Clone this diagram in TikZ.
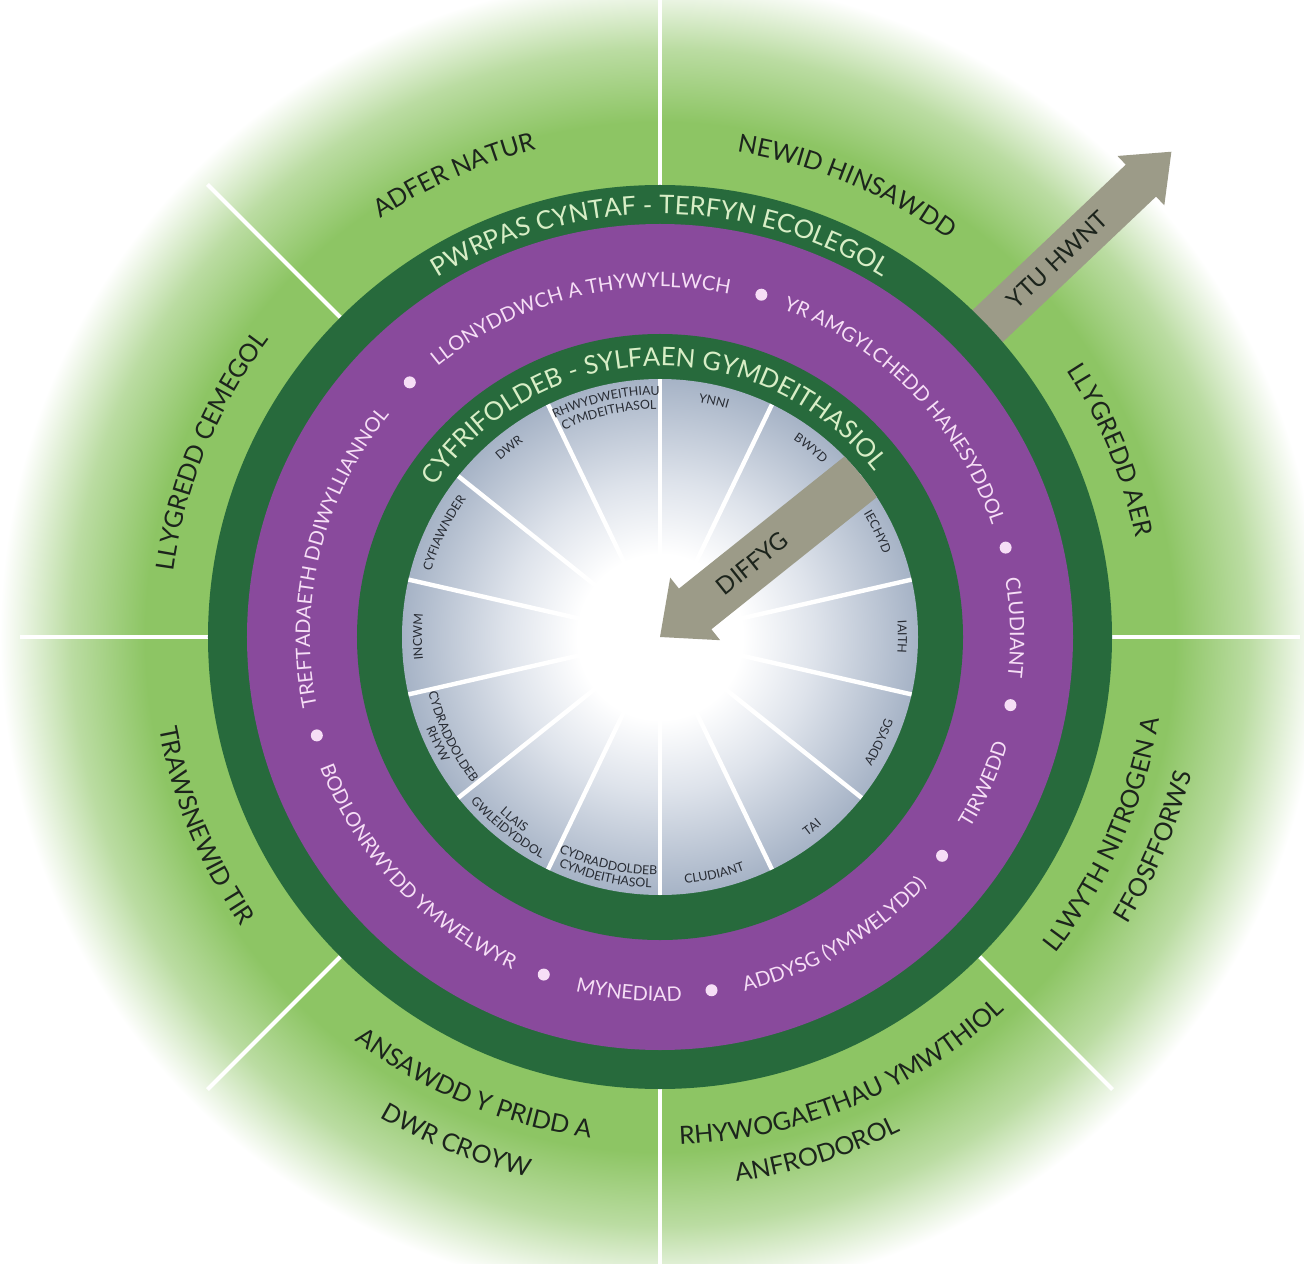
\documentclass[tikz,border=0pt]{standalone}
\usepackage{fontspec}
\setmainfont{Lato}
\usetikzlibrary{decorations.text}
\definecolor{lgreen}{RGB}{141,197,100}
\definecolor{dgreen}{RGB}{39,106,60}
\definecolor{purp}{RGB}{137,74,156}
\definecolor{ptext}{RGB}{246,222,246}
\definecolor{gtext}{RGB}{216,238,198}
\definecolor{darktext}{RGB}{28,36,28}
\definecolor{innertext}{RGB}{40,44,52}
\definecolor{arrowc}{RGB}{156,155,136}
\definecolor{discedge}{RGB}{166,179,198}
\definecolor{discmid}{RGB}{222,227,235}
\pgfdeclareradialshading{outerglow}{\pgfpoint{0bp}{0bp}}{color(0bp)=(lgreen); color(19.5bp)=(lgreen); color(22.3bp)=(lgreen!60!white); color(24.3bp)=(lgreen!15!white); color(25bp)=(white); color(50bp)=(white)}
\pgfdeclareradialshading{discglow}{\pgfpoint{0bp}{0bp}}{color(0bp)=(white); color(8bp)=(white); color(15bp)=(discmid); color(25bp)=(discedge); color(50bp)=(discedge)}
\newcommand\fout{\fontsize{12.5}{14}\selectfont}
\newcommand\fring{\fontsize{12.8}{14}\selectfont}
\newcommand\fpurp{\fontsize{10}{12}\selectfont}
\newcommand\finn{\fontsize{6.2}{7}\selectfont}
\newcommand\cwlab[5]{\path[decorate,decoration={text along path,text align=center,text color=#4,text={|#3|#5}}] (#2+85:#1) arc[start angle=#2+85,end angle=#2-85,radius=#1];}
\newcommand\ccwlab[5]{\path[decorate,decoration={text along path,text align=center,text color=#4,text={|#3|#5}}] (#2-85:#1) arc[start angle=#2-85,end angle=#2+85,radius=#1];}
\begin{document}
\begin{tikzpicture}[x=0.5pt,y=0.5pt,
  spoke/.style={white,line width=2pt},
  ispoke/.style={white,line width=2.2pt},
  bullet/.style={fill=ptext},
  arrowlbl/.style={font=\fontsize{12}{14}\selectfont,text=darktext,inner sep=0pt}]
\useasboundingbox (-660,-626) rectangle (644,637);
\fill[white] (-660,-626) rectangle (644,637);
\shade[shading=outerglow] (0,0) circle (660);
\foreach \a in {0,90,135,180,225,270,315} \draw[spoke] (\a:452) -- (\a:640);
% outward arrow
\fill[arrowc,rotate=43.5] (430,-22) -- (663,-22) -- (663,-34) -- (705,0) -- (663,34) -- (663,22) -- (430,22) -- cycle;
% rings
\fill[dgreen] (0,0) circle (452);
\fill[purp] (0,0) circle (413);
\fill[dgreen] (0,0) circle (303);
\shade[shading=discglow] (0,0) circle (258);
\foreach \k in {0,...,13} \draw[ispoke] (90-\k*25.7143:70) -- (90-\k*25.7143:258);
% inward arrow
\begin{scope}
\clip (0,0) circle (258);
\fill[arrowc,rotate=38.6] (0,0) -- (45,-40) -- (45,-26) -- (300,-26) -- (300,26) -- (45,26) -- (45,40) -- cycle;
\end{scope}
\node[arrowlbl,rotate=43.5] (ytu) at (43.5:548) {YTU HWNT};
\node[arrowlbl,rotate=38.6] (diffyg) at (38.6:118) {DIFFYG};
% outer labels
\cwlab{503}{114}{\fout}{darktext}{ADFER NATUR}
\cwlab{491}{67.5}{\fout}{darktext}{NEWID HINSAWDD}
\cwlab{486}{22.5}{\fout}{darktext}{LLYGREDD AER}
\cwlab{491}{157.5}{\fout}{darktext}{LLYGREDD CEMEGOL}
\ccwlab{509}{202.5}{\fout}{darktext}{TRAWSNEWID TIR}
\ccwlab{506}{247.5}{\fout}{darktext}{ANSAWDD Y PRIDD A}
\ccwlab{556}{248}{\fout}{darktext}{DWR CROYW}
\ccwlab{508}{292.5}{\fout}{darktext}{RHYWOGAETHAU YMWTHIOL}
\ccwlab{550}{287}{\fout}{darktext}{ANFRODOROL}
\ccwlab{506}{336}{\fout}{darktext}{LLWYTH NITROGEN A}
\ccwlab{549}{337}{\fout}{darktext}{FFOSFFORWS}
% ring titles
\cwlab{423}{90}{\fring}{gtext}{PWRPAS CYNTAF - TERFYN ECOLEGOL}
\cwlab{271}{92}{\fring}{gtext}{CYFRIFOLDEB - SYLFAEN GYMDEITHASIOL}
% purple ring
\cwlab{350}{166}{\fpurp}{ptext}{TREFTADAETH DDIWYLLIANNOL}
\cwlab{350}{104}{\fpurp}{ptext}{LLONYDDWCH A THYWYLLWCH}
\cwlab{350}{44}{\fpurp}{ptext}{YR AMGYLCHEDD HANESYDDOL}
\cwlab{350}{1.5}{\fpurp}{ptext}{CLUDIANT}
\ccwlab{364}{-24.4}{\fpurp}{ptext}{TIRWEDD}
\ccwlab{364}{-59.7}{\fpurp}{ptext}{ADDYSG (YMWELYDD)}
\ccwlab{364}{-95}{\fpurp}{ptext}{MYNEDIAD}
\ccwlab{364}{-136.5}{\fpurp}{ptext}{BODLONRWYDD YMWELWYR}
\foreach \a in {134.5,73.5,14.5,-11,-37.8,-81.7,-109,-164} \fill[bullet] (\a:357) circle (6);
% inner labels
\cwlab{238}{77.1}{\finn}{innertext}{YNNI}
\cwlab{238}{51.4}{\finn}{innertext}{BWYD}
\cwlab{238}{25.7}{\finn}{innertext}{IECHYD}
\cwlab{238}{0}{\finn}{innertext}{IAITH}
\cwlab{238}{180}{\finn}{innertext}{INCWM}
\cwlab{238}{154.3}{\finn}{innertext}{CYFIAWNDER}
\cwlab{238}{128.6}{\finn}{innertext}{DWR}
\cwlab{242}{102.9}{\finn}{innertext}{RHWYDWEITHIAU}
\cwlab{228}{102.9}{\finn}{innertext}{CYMDEITHASOL}
\ccwlab{248}{-25.7}{\finn}{innertext}{ADDYSG}
\ccwlab{248}{-51.4}{\finn}{innertext}{TAI}
\ccwlab{248}{-77.1}{\finn}{innertext}{CLUDIANT}
\ccwlab{238}{-102.9}{\finn}{innertext}{CYDRADDOLDEB}
\ccwlab{251}{-102.9}{\finn}{innertext}{CYMDEITHASOL}
\ccwlab{238}{-128.6}{\finn}{innertext}{LLAIS}
\ccwlab{251}{-128.6}{\finn}{innertext}{GWLEIDYDDOL}
\ccwlab{238}{-154.3}{\finn}{innertext}{CYDRADDOLDEB}
\ccwlab{251}{-154.3}{\finn}{innertext}{RHYW}
\end{tikzpicture}
\end{document}
